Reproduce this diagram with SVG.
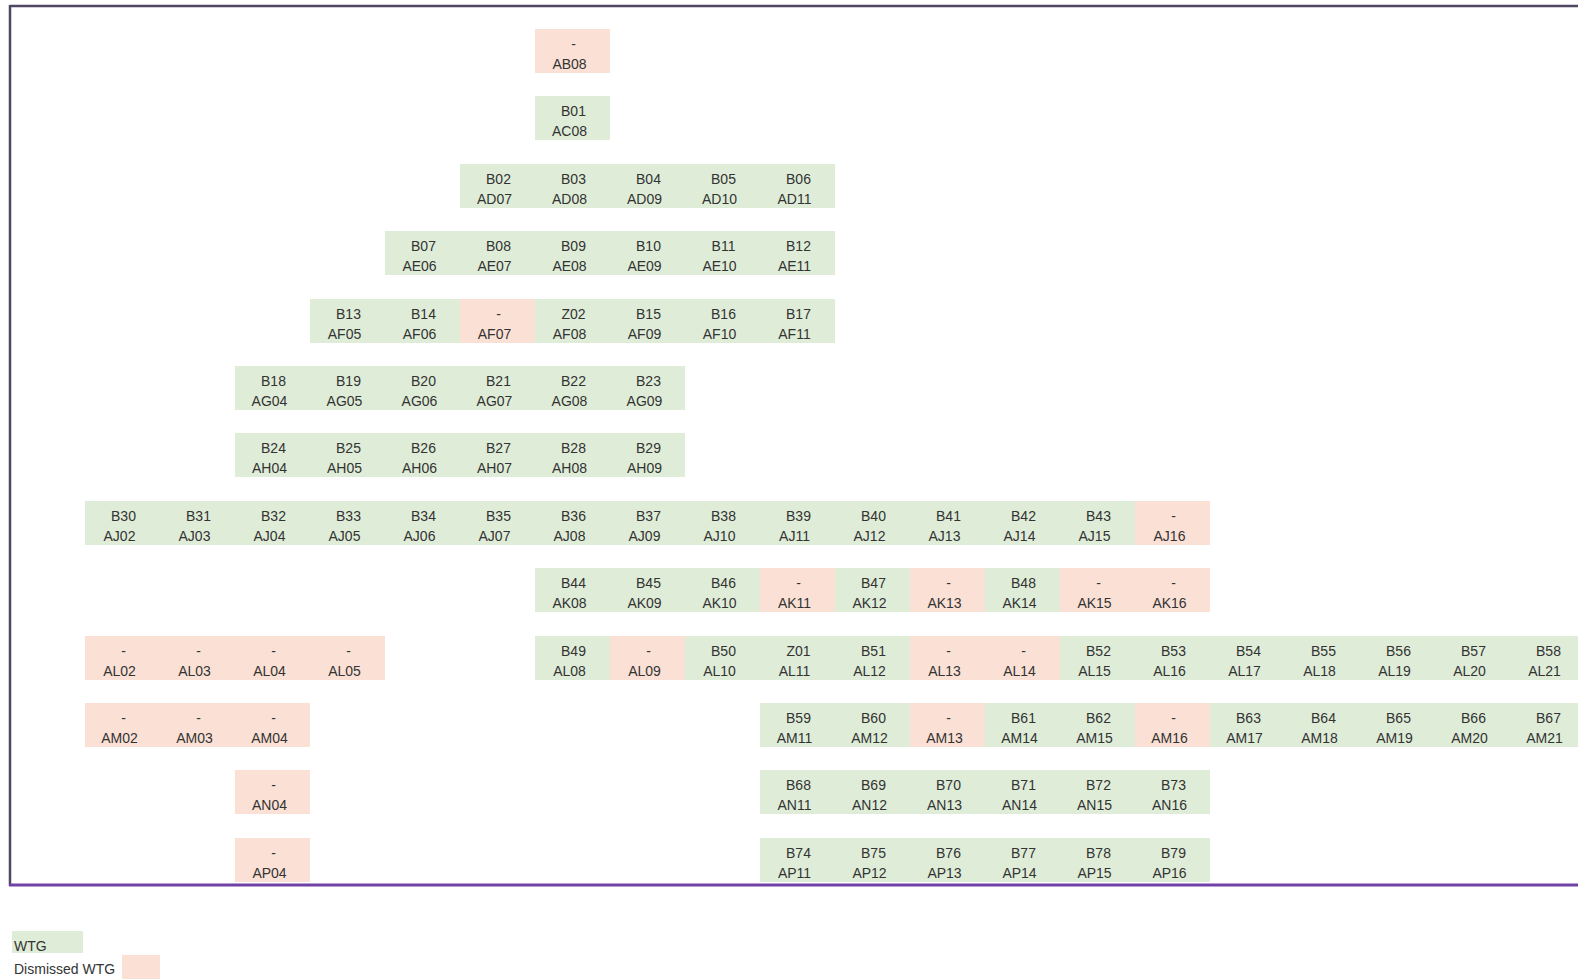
<svg xmlns="http://www.w3.org/2000/svg" width="1578" height="979" viewBox="0 0 1578 979">
<style>
text{font-family:"Liberation Sans",Arial,sans-serif;font-size:14px;fill:#333;}
.a{text-anchor:middle;}
.g{fill:#dfedd8;}
.p{fill:#fbe1d5;}
</style>
<defs>
<g id="dummy"/>
</defs>
<rect width="1578" height="979" fill="#fff"/>
<g id="frame">
<line x1="10" y1="6" x2="1578" y2="6" stroke="#514763" stroke-width="2.5"/>
<line x1="10" y1="5" x2="10" y2="886" stroke="#514763" stroke-width="2.5"/>
<line x1="9" y1="885" x2="1578" y2="885" stroke="#7041a6" stroke-width="3"/>
</g>
<g id="connectors"/>
<g id="n-AB08" transform="translate(535,29)"><rect class="p" width="75" height="44"/><text class="a" x="38.5" y="20">-</text><text class="a" x="34.5" y="40">AB08</text></g>
<g id="n-AC08" transform="translate(535,96)"><rect class="g" width="75" height="44"/><text class="a" x="38.5" y="20">B01</text><text class="a" x="34.5" y="40">AC08</text></g>
<g id="n-AD07" transform="translate(460,164)"><rect class="g" width="75" height="44"/><text class="a" x="38.5" y="20">B02</text><text class="a" x="34.5" y="40">AD07</text></g>
<g id="n-AD08" transform="translate(535,164)"><rect class="g" width="75" height="44"/><text class="a" x="38.5" y="20">B03</text><text class="a" x="34.5" y="40">AD08</text></g>
<g id="n-AD09" transform="translate(610,164)"><rect class="g" width="75" height="44"/><text class="a" x="38.5" y="20">B04</text><text class="a" x="34.5" y="40">AD09</text></g>
<g id="n-AD10" transform="translate(685,164)"><rect class="g" width="75" height="44"/><text class="a" x="38.5" y="20">B05</text><text class="a" x="34.5" y="40">AD10</text></g>
<g id="n-AD11" transform="translate(760,164)"><rect class="g" width="75" height="44"/><text class="a" x="38.5" y="20">B06</text><text class="a" x="34.5" y="40">AD11</text></g>
<g id="n-AE06" transform="translate(385,231)"><rect class="g" width="75" height="44"/><text class="a" x="38.5" y="20">B07</text><text class="a" x="34.5" y="40">AE06</text></g>
<g id="n-AE07" transform="translate(460,231)"><rect class="g" width="75" height="44"/><text class="a" x="38.5" y="20">B08</text><text class="a" x="34.5" y="40">AE07</text></g>
<g id="n-AE08" transform="translate(535,231)"><rect class="g" width="75" height="44"/><text class="a" x="38.5" y="20">B09</text><text class="a" x="34.5" y="40">AE08</text></g>
<g id="n-AE09" transform="translate(610,231)"><rect class="g" width="75" height="44"/><text class="a" x="38.5" y="20">B10</text><text class="a" x="34.5" y="40">AE09</text></g>
<g id="n-AE10" transform="translate(685,231)"><rect class="g" width="75" height="44"/><text class="a" x="38.5" y="20">B11</text><text class="a" x="34.5" y="40">AE10</text></g>
<g id="n-AE11" transform="translate(760,231)"><rect class="g" width="75" height="44"/><text class="a" x="38.5" y="20">B12</text><text class="a" x="34.5" y="40">AE11</text></g>
<g id="n-AF05" transform="translate(310,299)"><rect class="g" width="75" height="44"/><text class="a" x="38.5" y="20">B13</text><text class="a" x="34.5" y="40">AF05</text></g>
<g id="n-AF06" transform="translate(385,299)"><rect class="g" width="75" height="44"/><text class="a" x="38.5" y="20">B14</text><text class="a" x="34.5" y="40">AF06</text></g>
<g id="n-AF07" transform="translate(460,299)"><rect class="p" width="75" height="44"/><text class="a" x="38.5" y="20">-</text><text class="a" x="34.5" y="40">AF07</text></g>
<g id="n-AF08" transform="translate(535,299)"><rect class="g" width="75" height="44"/><text class="a" x="38.5" y="20">Z02</text><text class="a" x="34.5" y="40">AF08</text></g>
<g id="n-AF09" transform="translate(610,299)"><rect class="g" width="75" height="44"/><text class="a" x="38.5" y="20">B15</text><text class="a" x="34.5" y="40">AF09</text></g>
<g id="n-AF10" transform="translate(685,299)"><rect class="g" width="75" height="44"/><text class="a" x="38.5" y="20">B16</text><text class="a" x="34.5" y="40">AF10</text></g>
<g id="n-AF11" transform="translate(760,299)"><rect class="g" width="75" height="44"/><text class="a" x="38.5" y="20">B17</text><text class="a" x="34.5" y="40">AF11</text></g>
<g id="n-AG04" transform="translate(235,366)"><rect class="g" width="75" height="44"/><text class="a" x="38.5" y="20">B18</text><text class="a" x="34.5" y="40">AG04</text></g>
<g id="n-AG05" transform="translate(310,366)"><rect class="g" width="75" height="44"/><text class="a" x="38.5" y="20">B19</text><text class="a" x="34.5" y="40">AG05</text></g>
<g id="n-AG06" transform="translate(385,366)"><rect class="g" width="75" height="44"/><text class="a" x="38.5" y="20">B20</text><text class="a" x="34.5" y="40">AG06</text></g>
<g id="n-AG07" transform="translate(460,366)"><rect class="g" width="75" height="44"/><text class="a" x="38.5" y="20">B21</text><text class="a" x="34.5" y="40">AG07</text></g>
<g id="n-AG08" transform="translate(535,366)"><rect class="g" width="75" height="44"/><text class="a" x="38.5" y="20">B22</text><text class="a" x="34.5" y="40">AG08</text></g>
<g id="n-AG09" transform="translate(610,366)"><rect class="g" width="75" height="44"/><text class="a" x="38.5" y="20">B23</text><text class="a" x="34.5" y="40">AG09</text></g>
<g id="n-AH04" transform="translate(235,433)"><rect class="g" width="75" height="44"/><text class="a" x="38.5" y="20">B24</text><text class="a" x="34.5" y="40">AH04</text></g>
<g id="n-AH05" transform="translate(310,433)"><rect class="g" width="75" height="44"/><text class="a" x="38.5" y="20">B25</text><text class="a" x="34.5" y="40">AH05</text></g>
<g id="n-AH06" transform="translate(385,433)"><rect class="g" width="75" height="44"/><text class="a" x="38.5" y="20">B26</text><text class="a" x="34.5" y="40">AH06</text></g>
<g id="n-AH07" transform="translate(460,433)"><rect class="g" width="75" height="44"/><text class="a" x="38.5" y="20">B27</text><text class="a" x="34.5" y="40">AH07</text></g>
<g id="n-AH08" transform="translate(535,433)"><rect class="g" width="75" height="44"/><text class="a" x="38.5" y="20">B28</text><text class="a" x="34.5" y="40">AH08</text></g>
<g id="n-AH09" transform="translate(610,433)"><rect class="g" width="75" height="44"/><text class="a" x="38.5" y="20">B29</text><text class="a" x="34.5" y="40">AH09</text></g>
<g id="n-AJ02" transform="translate(85,501)"><rect class="g" width="75" height="44"/><text class="a" x="38.5" y="20">B30</text><text class="a" x="34.5" y="40">AJ02</text></g>
<g id="n-AJ03" transform="translate(160,501)"><rect class="g" width="75" height="44"/><text class="a" x="38.5" y="20">B31</text><text class="a" x="34.5" y="40">AJ03</text></g>
<g id="n-AJ04" transform="translate(235,501)"><rect class="g" width="75" height="44"/><text class="a" x="38.5" y="20">B32</text><text class="a" x="34.5" y="40">AJ04</text></g>
<g id="n-AJ05" transform="translate(310,501)"><rect class="g" width="75" height="44"/><text class="a" x="38.5" y="20">B33</text><text class="a" x="34.5" y="40">AJ05</text></g>
<g id="n-AJ06" transform="translate(385,501)"><rect class="g" width="75" height="44"/><text class="a" x="38.5" y="20">B34</text><text class="a" x="34.5" y="40">AJ06</text></g>
<g id="n-AJ07" transform="translate(460,501)"><rect class="g" width="75" height="44"/><text class="a" x="38.5" y="20">B35</text><text class="a" x="34.5" y="40">AJ07</text></g>
<g id="n-AJ08" transform="translate(535,501)"><rect class="g" width="75" height="44"/><text class="a" x="38.5" y="20">B36</text><text class="a" x="34.5" y="40">AJ08</text></g>
<g id="n-AJ09" transform="translate(610,501)"><rect class="g" width="75" height="44"/><text class="a" x="38.5" y="20">B37</text><text class="a" x="34.5" y="40">AJ09</text></g>
<g id="n-AJ10" transform="translate(685,501)"><rect class="g" width="75" height="44"/><text class="a" x="38.5" y="20">B38</text><text class="a" x="34.5" y="40">AJ10</text></g>
<g id="n-AJ11" transform="translate(760,501)"><rect class="g" width="75" height="44"/><text class="a" x="38.5" y="20">B39</text><text class="a" x="34.5" y="40">AJ11</text></g>
<g id="n-AJ12" transform="translate(835,501)"><rect class="g" width="75" height="44"/><text class="a" x="38.5" y="20">B40</text><text class="a" x="34.5" y="40">AJ12</text></g>
<g id="n-AJ13" transform="translate(910,501)"><rect class="g" width="75" height="44"/><text class="a" x="38.5" y="20">B41</text><text class="a" x="34.5" y="40">AJ13</text></g>
<g id="n-AJ14" transform="translate(985,501)"><rect class="g" width="75" height="44"/><text class="a" x="38.5" y="20">B42</text><text class="a" x="34.5" y="40">AJ14</text></g>
<g id="n-AJ15" transform="translate(1060,501)"><rect class="g" width="75" height="44"/><text class="a" x="38.5" y="20">B43</text><text class="a" x="34.5" y="40">AJ15</text></g>
<g id="n-AJ16" transform="translate(1135,501)"><rect class="p" width="75" height="44"/><text class="a" x="38.5" y="20">-</text><text class="a" x="34.5" y="40">AJ16</text></g>
<g id="n-AK08" transform="translate(535,568)"><rect class="g" width="75" height="44"/><text class="a" x="38.5" y="20">B44</text><text class="a" x="34.5" y="40">AK08</text></g>
<g id="n-AK09" transform="translate(610,568)"><rect class="g" width="75" height="44"/><text class="a" x="38.5" y="20">B45</text><text class="a" x="34.5" y="40">AK09</text></g>
<g id="n-AK10" transform="translate(685,568)"><rect class="g" width="75" height="44"/><text class="a" x="38.5" y="20">B46</text><text class="a" x="34.5" y="40">AK10</text></g>
<g id="n-AK11" transform="translate(760,568)"><rect class="p" width="75" height="44"/><text class="a" x="38.5" y="20">-</text><text class="a" x="34.5" y="40">AK11</text></g>
<g id="n-AK12" transform="translate(835,568)"><rect class="g" width="75" height="44"/><text class="a" x="38.5" y="20">B47</text><text class="a" x="34.5" y="40">AK12</text></g>
<g id="n-AK13" transform="translate(910,568)"><rect class="p" width="75" height="44"/><text class="a" x="38.5" y="20">-</text><text class="a" x="34.5" y="40">AK13</text></g>
<g id="n-AK14" transform="translate(985,568)"><rect class="g" width="75" height="44"/><text class="a" x="38.5" y="20">B48</text><text class="a" x="34.5" y="40">AK14</text></g>
<g id="n-AK15" transform="translate(1060,568)"><rect class="p" width="75" height="44"/><text class="a" x="38.5" y="20">-</text><text class="a" x="34.5" y="40">AK15</text></g>
<g id="n-AK16" transform="translate(1135,568)"><rect class="p" width="75" height="44"/><text class="a" x="38.5" y="20">-</text><text class="a" x="34.5" y="40">AK16</text></g>
<g id="n-AL02" transform="translate(85,636)"><rect class="p" width="75" height="44"/><text class="a" x="38.5" y="20">-</text><text class="a" x="34.5" y="40">AL02</text></g>
<g id="n-AL03" transform="translate(160,636)"><rect class="p" width="75" height="44"/><text class="a" x="38.5" y="20">-</text><text class="a" x="34.5" y="40">AL03</text></g>
<g id="n-AL04" transform="translate(235,636)"><rect class="p" width="75" height="44"/><text class="a" x="38.5" y="20">-</text><text class="a" x="34.5" y="40">AL04</text></g>
<g id="n-AL05" transform="translate(310,636)"><rect class="p" width="75" height="44"/><text class="a" x="38.5" y="20">-</text><text class="a" x="34.5" y="40">AL05</text></g>
<g id="n-AL08" transform="translate(535,636)"><rect class="g" width="75" height="44"/><text class="a" x="38.5" y="20">B49</text><text class="a" x="34.5" y="40">AL08</text></g>
<g id="n-AL09" transform="translate(610,636)"><rect class="p" width="75" height="44"/><text class="a" x="38.5" y="20">-</text><text class="a" x="34.5" y="40">AL09</text></g>
<g id="n-AL10" transform="translate(685,636)"><rect class="g" width="75" height="44"/><text class="a" x="38.5" y="20">B50</text><text class="a" x="34.5" y="40">AL10</text></g>
<g id="n-AL11" transform="translate(760,636)"><rect class="g" width="75" height="44"/><text class="a" x="38.5" y="20">Z01</text><text class="a" x="34.5" y="40">AL11</text></g>
<g id="n-AL12" transform="translate(835,636)"><rect class="g" width="75" height="44"/><text class="a" x="38.5" y="20">B51</text><text class="a" x="34.5" y="40">AL12</text></g>
<g id="n-AL13" transform="translate(910,636)"><rect class="p" width="75" height="44"/><text class="a" x="38.5" y="20">-</text><text class="a" x="34.5" y="40">AL13</text></g>
<g id="n-AL14" transform="translate(985,636)"><rect class="p" width="75" height="44"/><text class="a" x="38.5" y="20">-</text><text class="a" x="34.5" y="40">AL14</text></g>
<g id="n-AL15" transform="translate(1060,636)"><rect class="g" width="75" height="44"/><text class="a" x="38.5" y="20">B52</text><text class="a" x="34.5" y="40">AL15</text></g>
<g id="n-AL16" transform="translate(1135,636)"><rect class="g" width="75" height="44"/><text class="a" x="38.5" y="20">B53</text><text class="a" x="34.5" y="40">AL16</text></g>
<g id="n-AL17" transform="translate(1210,636)"><rect class="g" width="75" height="44"/><text class="a" x="38.5" y="20">B54</text><text class="a" x="34.5" y="40">AL17</text></g>
<g id="n-AL18" transform="translate(1285,636)"><rect class="g" width="75" height="44"/><text class="a" x="38.5" y="20">B55</text><text class="a" x="34.5" y="40">AL18</text></g>
<g id="n-AL19" transform="translate(1360,636)"><rect class="g" width="75" height="44"/><text class="a" x="38.5" y="20">B56</text><text class="a" x="34.5" y="40">AL19</text></g>
<g id="n-AL20" transform="translate(1435,636)"><rect class="g" width="75" height="44"/><text class="a" x="38.5" y="20">B57</text><text class="a" x="34.5" y="40">AL20</text></g>
<g id="n-AL21" transform="translate(1510,636)"><rect class="g" width="75" height="44"/><text class="a" x="38.5" y="20">B58</text><text class="a" x="34.5" y="40">AL21</text></g>
<g id="n-AM02" transform="translate(85,703)"><rect class="p" width="75" height="44"/><text class="a" x="38.5" y="20">-</text><text class="a" x="34.5" y="40">AM02</text></g>
<g id="n-AM03" transform="translate(160,703)"><rect class="p" width="75" height="44"/><text class="a" x="38.5" y="20">-</text><text class="a" x="34.5" y="40">AM03</text></g>
<g id="n-AM04" transform="translate(235,703)"><rect class="p" width="75" height="44"/><text class="a" x="38.5" y="20">-</text><text class="a" x="34.5" y="40">AM04</text></g>
<g id="n-AM11" transform="translate(760,703)"><rect class="g" width="75" height="44"/><text class="a" x="38.5" y="20">B59</text><text class="a" x="34.5" y="40">AM11</text></g>
<g id="n-AM12" transform="translate(835,703)"><rect class="g" width="75" height="44"/><text class="a" x="38.5" y="20">B60</text><text class="a" x="34.5" y="40">AM12</text></g>
<g id="n-AM13" transform="translate(910,703)"><rect class="p" width="75" height="44"/><text class="a" x="38.5" y="20">-</text><text class="a" x="34.5" y="40">AM13</text></g>
<g id="n-AM14" transform="translate(985,703)"><rect class="g" width="75" height="44"/><text class="a" x="38.5" y="20">B61</text><text class="a" x="34.5" y="40">AM14</text></g>
<g id="n-AM15" transform="translate(1060,703)"><rect class="g" width="75" height="44"/><text class="a" x="38.5" y="20">B62</text><text class="a" x="34.5" y="40">AM15</text></g>
<g id="n-AM16" transform="translate(1135,703)"><rect class="p" width="75" height="44"/><text class="a" x="38.5" y="20">-</text><text class="a" x="34.5" y="40">AM16</text></g>
<g id="n-AM17" transform="translate(1210,703)"><rect class="g" width="75" height="44"/><text class="a" x="38.5" y="20">B63</text><text class="a" x="34.5" y="40">AM17</text></g>
<g id="n-AM18" transform="translate(1285,703)"><rect class="g" width="75" height="44"/><text class="a" x="38.5" y="20">B64</text><text class="a" x="34.5" y="40">AM18</text></g>
<g id="n-AM19" transform="translate(1360,703)"><rect class="g" width="75" height="44"/><text class="a" x="38.5" y="20">B65</text><text class="a" x="34.5" y="40">AM19</text></g>
<g id="n-AM20" transform="translate(1435,703)"><rect class="g" width="75" height="44"/><text class="a" x="38.5" y="20">B66</text><text class="a" x="34.5" y="40">AM20</text></g>
<g id="n-AM21" transform="translate(1510,703)"><rect class="g" width="75" height="44"/><text class="a" x="38.5" y="20">B67</text><text class="a" x="34.5" y="40">AM21</text></g>
<g id="n-AN04" transform="translate(235,770)"><rect class="p" width="75" height="44"/><text class="a" x="38.5" y="20">-</text><text class="a" x="34.5" y="40">AN04</text></g>
<g id="n-AN11" transform="translate(760,770)"><rect class="g" width="75" height="44"/><text class="a" x="38.5" y="20">B68</text><text class="a" x="34.5" y="40">AN11</text></g>
<g id="n-AN12" transform="translate(835,770)"><rect class="g" width="75" height="44"/><text class="a" x="38.5" y="20">B69</text><text class="a" x="34.5" y="40">AN12</text></g>
<g id="n-AN13" transform="translate(910,770)"><rect class="g" width="75" height="44"/><text class="a" x="38.5" y="20">B70</text><text class="a" x="34.5" y="40">AN13</text></g>
<g id="n-AN14" transform="translate(985,770)"><rect class="g" width="75" height="44"/><text class="a" x="38.5" y="20">B71</text><text class="a" x="34.5" y="40">AN14</text></g>
<g id="n-AN15" transform="translate(1060,770)"><rect class="g" width="75" height="44"/><text class="a" x="38.5" y="20">B72</text><text class="a" x="34.5" y="40">AN15</text></g>
<g id="n-AN16" transform="translate(1135,770)"><rect class="g" width="75" height="44"/><text class="a" x="38.5" y="20">B73</text><text class="a" x="34.5" y="40">AN16</text></g>
<g id="n-AP04" transform="translate(235,838)"><rect class="p" width="75" height="44"/><text class="a" x="38.5" y="20">-</text><text class="a" x="34.5" y="40">AP04</text></g>
<g id="n-AP11" transform="translate(760,838)"><rect class="g" width="75" height="44"/><text class="a" x="38.5" y="20">B74</text><text class="a" x="34.5" y="40">AP11</text></g>
<g id="n-AP12" transform="translate(835,838)"><rect class="g" width="75" height="44"/><text class="a" x="38.5" y="20">B75</text><text class="a" x="34.5" y="40">AP12</text></g>
<g id="n-AP13" transform="translate(910,838)"><rect class="g" width="75" height="44"/><text class="a" x="38.5" y="20">B76</text><text class="a" x="34.5" y="40">AP13</text></g>
<g id="n-AP14" transform="translate(985,838)"><rect class="g" width="75" height="44"/><text class="a" x="38.5" y="20">B77</text><text class="a" x="34.5" y="40">AP14</text></g>
<g id="n-AP15" transform="translate(1060,838)"><rect class="g" width="75" height="44"/><text class="a" x="38.5" y="20">B78</text><text class="a" x="34.5" y="40">AP15</text></g>
<g id="n-AP16" transform="translate(1135,838)"><rect class="g" width="75" height="44"/><text class="a" x="38.5" y="20">B79</text><text class="a" x="34.5" y="40">AP16</text></g>
<g id="legend">
<rect class="g" x="12" y="931" width="71" height="22"/>
<rect class="p" x="122" y="955" width="38" height="24"/>
<text x="14" y="951">WTG</text>
<text x="14" y="974">Dismissed WTG</text>
</g>
</svg>
